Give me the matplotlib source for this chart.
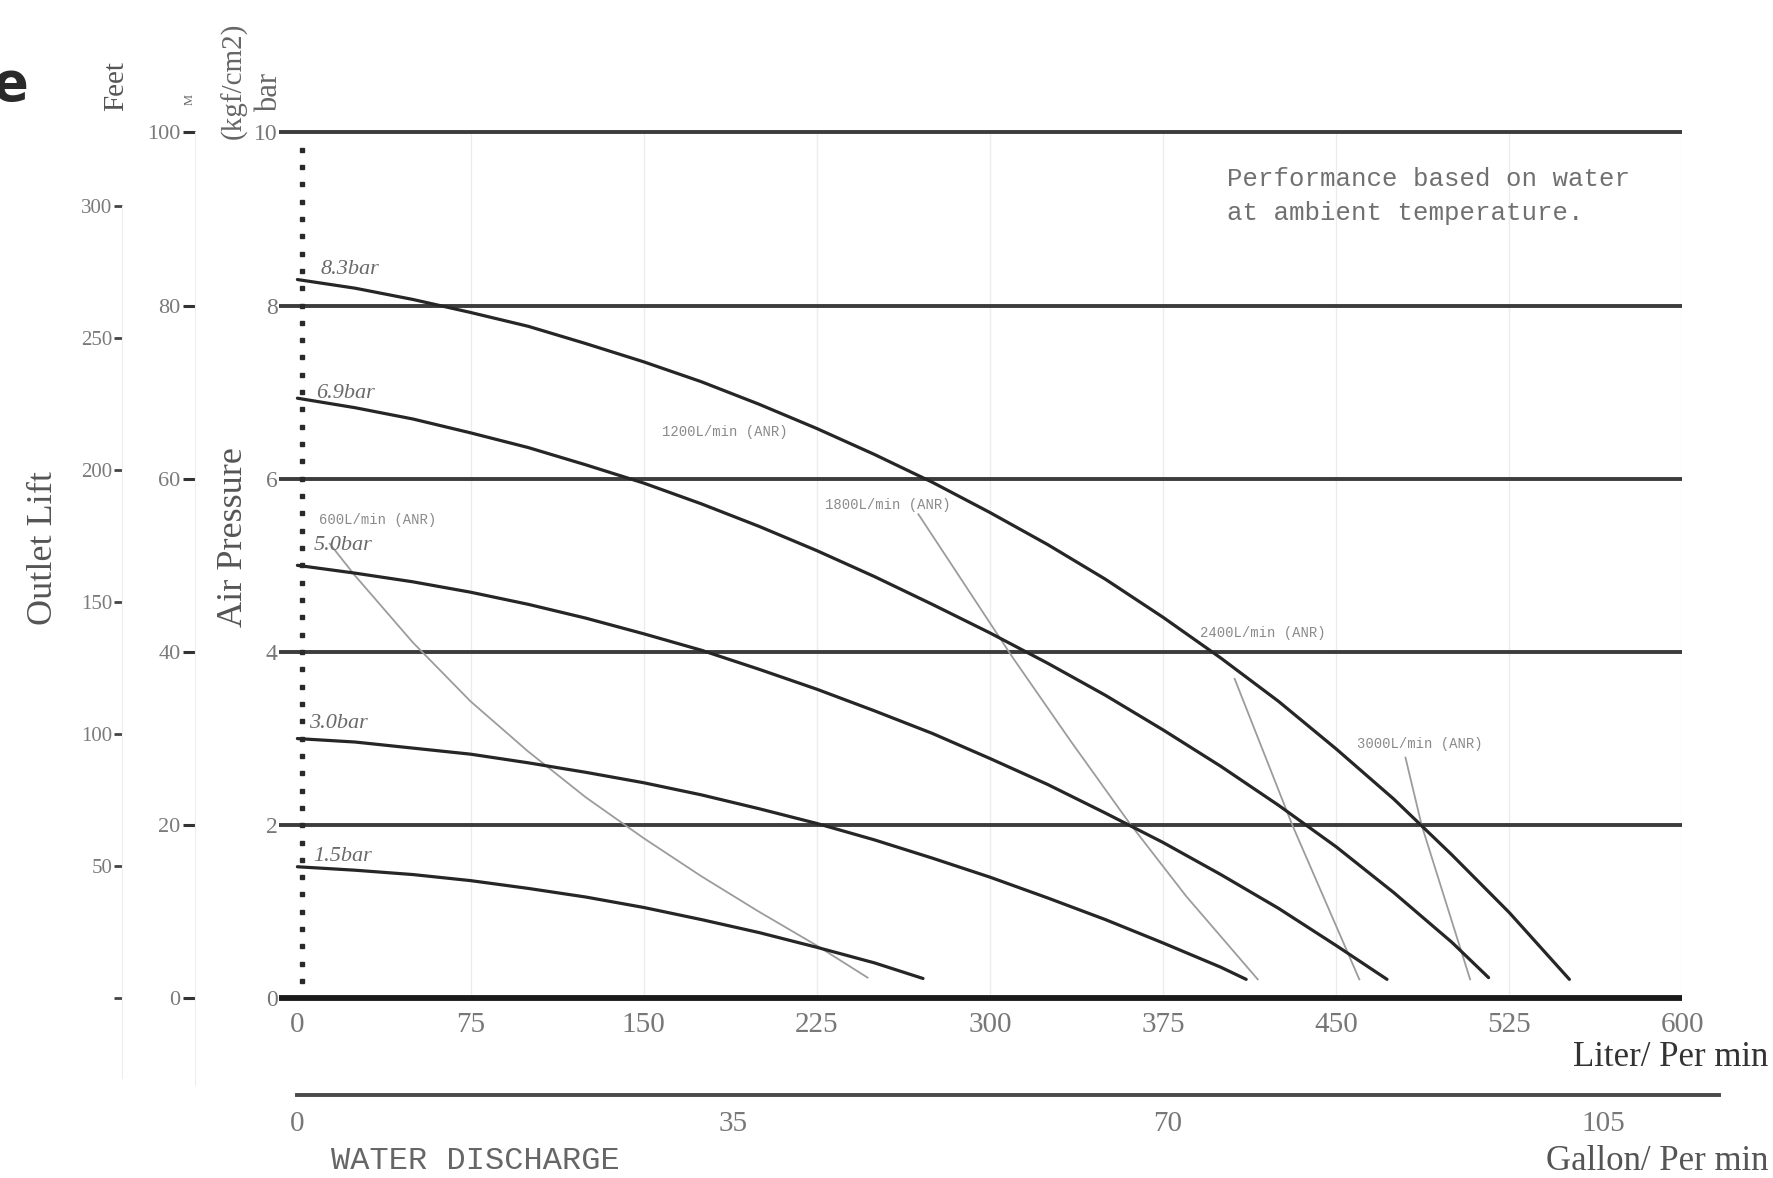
import matplotlib
matplotlib.use("Agg")
import matplotlib.pyplot as plt
import numpy as np

# ---------------- data ----------------
pressure_levels = [0, 2, 4, 6, 8, 10]
flow_ticks = [0, 75, 150, 225, 300, 375, 450, 525, 600]
gallon_ticks = [0, 35, 70, 105]
metre_ticks = [0, 20, 40, 60, 80, 100]
feet_ticks = [0, 50, 100, 150, 200, 250, 300]

curve_labels = ["8.3bar", "6.9bar", "5.0bar", "3.0bar", "1.5bar"]
flow_83 = [0, 25, 50, 75, 100, 125, 150, 175, 200, 225, 250, 275, 300, 325, 350,
           375, 400, 425, 450, 475, 500, 525, 551]
bar_83 = [8.30, 8.20, 8.07, 7.92, 7.76, 7.56, 7.35, 7.12, 6.86, 6.58, 6.28, 5.96,
          5.61, 5.24, 4.84, 4.40, 3.93, 3.43, 2.88, 2.30, 1.66, 0.99, 0.22]
flow_69 = [0, 25, 50, 75, 100, 125, 150, 175, 200, 225, 250, 275, 300, 325, 350,
           375, 400, 425, 450, 475, 500, 516]
bar_69 = [6.93, 6.82, 6.69, 6.53, 6.36, 6.16, 5.95, 5.71, 5.45, 5.17, 4.87, 4.55,
          4.22, 3.87, 3.50, 3.10, 2.68, 2.23, 1.75, 1.22, 0.65, 0.24]
flow_50 = [0, 25, 50, 75, 100, 125, 150, 175, 200, 225, 250, 275, 300, 325, 350,
           375, 400, 425, 450, 472]
bar_50 = [5.00, 4.91, 4.81, 4.69, 4.55, 4.39, 4.21, 4.02, 3.80, 3.57, 3.32, 3.06,
          2.77, 2.47, 2.14, 1.80, 1.43, 1.04, 0.61, 0.22]
flow_30 = [0, 25, 50, 75, 100, 125, 150, 175, 200, 225, 250, 275, 300, 325, 350,
           375, 400, 411]
bar_30 = [3.00, 2.96, 2.89, 2.82, 2.72, 2.61, 2.49, 2.35, 2.19, 2.02, 1.83, 1.62,
          1.40, 1.16, 0.91, 0.64, 0.36, 0.22]
flow_15 = [0, 25, 50, 75, 100, 125, 150, 175, 200, 225, 250, 271]
bar_15 = [1.52, 1.48, 1.43, 1.36, 1.27, 1.17, 1.05, 0.91, 0.76, 0.59, 0.41, 0.23]

air_labels = ["600L/min (ANR)", "1200L/min (ANR)", "1800L/min (ANR)",
              "2400L/min (ANR)", "3000L/min (ANR)"]
air600_flow = [14, 25, 50, 75, 100, 125, 150, 175, 200, 225, 247]
air600_bar = [5.25, 4.88, 4.11, 3.43, 2.85, 2.32, 1.85, 1.41, 1.00, 0.61, 0.24]
air1800_flow = [269, 290, 310, 335, 360, 385, 416]
air1800_bar = [5.59, 4.74, 3.93, 2.97, 2.04, 1.18, 0.22]
air2400_flow = [406, 431, 460]
air2400_bar = [3.69, 2.00, 0.22]
air3000_flow = [480, 487, 508]
air3000_bar = [2.78, 2.00, 0.22]

# ---------------- figure ----------------
W, H = 1773, 1178
fig = plt.figure(figsize=(W / 100, H / 100), dpi=100)
fig.patch.set_facecolor("white")

SERIF = ["Liberation Serif", "DejaVu Serif"]
MONO = ["Liberation Mono", "DejaVu Sans Mono"]

def fx(px):
    return px / W

def fy(py):
    return 1 - py / H

# main axes: L=-8 .. 600 ; bar 0..10
x_zero, x_600 = 297.4, 1682.5
pxL = (x_600 - x_zero) / 600.0
xmin = -8
y0_px, y10_px = 998.4, 132.3
ax = fig.add_axes([fx(x_zero + xmin * pxL), fy(y0_px),
                   (600 - xmin) * pxL / W, (y0_px - y10_px) / H])
ax.set_xlim(xmin, 600)
ax.set_ylim(0, 10)
for s in ax.spines.values():
    s.set_visible(False)
ax.set_facecolor("none")

# faint vertical grid
for xv in flow_ticks[1:]:
    ax.plot([xv, xv], [0, 10], color="#ececec", lw=1.0, zorder=0)

# horizontal pressure lines
for yv in pressure_levels:
    ax.plot([xmin, 600], [yv, yv], color="#1a1a1a" if yv == 0 else "#3c3c3c",
            lw=4.2 if yv == 0 else 2.8, solid_capstyle="butt", clip_on=False, zorder=3)

# dotted scale along x=2
dots = np.arange(0.2, 10.0, 0.2)
ax.plot(np.full(len(dots), 2.0), dots, ls="none", marker="s", ms=3.0,
        color="#2a2a2a", zorder=4)

# performance curves
curves = [(flow_83, bar_83), (flow_69, bar_69), (flow_50, bar_50),
          (flow_30, bar_30), (flow_15, bar_15)]
label_pos = [(10, 8.42), (8, 6.98), (7, 5.23), (5, 3.17), (7, 1.64)]
for (fl, br), lab, (lx, ly) in zip(curves, curve_labels, label_pos):
    ax.plot(fl, br, color="#262626", lw=2.3, zorder=5, solid_capstyle="round",
            solid_joinstyle="round")
    ax.text(lx, ly, lab, fontsize=16, style="italic", family=SERIF,
            color="#6a6a6a", ha="left", va="center", zorder=6)

# air consumption lines
airs = [(air600_flow, air600_bar), (air1800_flow, air1800_bar),
        (air2400_flow, air2400_bar), (air3000_flow, air3000_bar)]
for fl, br in airs:
    ax.plot(fl, br, color="#9c9c9c", lw=1.3, zorder=4)
air_label_pos = [(34.8, 5.52), (185, 6.54), (255.7, 5.70), (418, 4.22), (486, 2.94)]
for lab, (lx, ly) in zip(air_labels, air_label_pos):
    ax.text(lx, ly, lab, fontsize=10, family=MONO, color="#8a8a8a",
            ha="center", va="center", zorder=6)

# ticks
ax.set_xticks(flow_ticks)
ax.set_xticklabels([str(v) for v in flow_ticks], family=SERIF, fontsize=21, color="#777777")
ax.set_yticks(pressure_levels)
ax.set_yticklabels([str(v) for v in pressure_levels], family=SERIF, fontsize=17, color="#777777")
ax.tick_params(axis="x", length=0, pad=10)
ax.tick_params(axis="y", length=0, pad=1)

fig.text(1227 / W, fy(178.6), "Performance based on water",
         family=MONO, fontsize=18.5, color="#707070", ha="left", va="center")
fig.text(1227 / W, fy(212.6), "at ambient temperature.",
         family=MONO, fontsize=18.5, color="#707070", ha="left", va="center")

# metre axis
ax_m = fig.add_axes([fx(194.5), fy(y0_px), 0.0005, (y0_px - y10_px) / H])
ax_m.set_ylim(0, 100)
ax_m.set_xticks([])
for k, s in ax_m.spines.items():
    s.set_visible(False)
ax_m.spines["left"].set_visible(True)
ax_m.spines["left"].set_color("#ededed")
ax_m.spines["left"].set_bounds(-10, 100)
ax_m.set_yticks(metre_ticks)
ax_m.set_yticklabels([str(v) for v in metre_ticks], family=SERIF, fontsize=16, color="#7a7a7a")
ax_m.tick_params(axis="y", length=9, width=2.2, color="#333333", pad=1)
ax_m.patch.set_visible(False)

# feet axis
ax_f = fig.add_axes([fx(122), fy(y0_px), 0.0005, (y0_px - y10_px) / H])
ax_f.set_ylim(0, 100 * 3.2808)
ax_f.set_xticks([])
for k, s in ax_f.spines.items():
    s.set_visible(False)
ax_f.spines["left"].set_visible(True)
ax_f.spines["left"].set_color("#ededed")
ax_f.spines["left"].set_bounds(-30, 300)
ax_f.set_yticks(feet_ticks)
ax_f.set_yticklabels([""] + [str(v) for v in feet_ticks[1:]], family=SERIF, fontsize=15,
                     color="#7a7a7a")
ax_f.tick_params(axis="y", length=6, width=2.0, color="#444444", pad=1)
ax_f.patch.set_visible(False)

# gallon axis
g_left, g_right, g_y = 297.4, 1719.0, 1094.5
ax_g = fig.add_axes([fx(g_left), fy(g_y), (g_right - g_left) / W, 0.0001])
ax_g.set_xlim(0, 114.3)
ax_g.set_yticks([])
for k, s in ax_g.spines.items():
    s.set_visible(False)
ax_g.spines["bottom"].set_visible(True)
ax_g.spines["bottom"].set_color("#4a4a4a")
ax_g.spines["bottom"].set_linewidth(2.8)
ax_g.set_xticks(gallon_ticks)
ax_g.set_xticklabels([str(v) for v in gallon_ticks], family=SERIF, fontsize=21, color="#777777")
ax_g.tick_params(axis="x", length=0, pad=12)
ax_g.patch.set_visible(False)

# labels
fig.text(fx(1768), fy(1057), "Liter/ Per min", family=SERIF, fontsize=25,
         color="#333333", ha="right", va="center")
fig.text(fx(1768), fy(1161), "Gallon/ Per min", family=SERIF, fontsize=25,
         color="#555555", ha="right", va="center")
fig.text(fx(331), fy(1161), "WATER DISCHARGE", family=MONO, fontsize=23,
         color="#666666", ha="left", va="center")

fig.text(fx(43), fy(548), "Outlet Lift", family=SERIF, fontsize=26, color="#555555",
         rotation=90, ha="center", va="center")
fig.text(fx(234), fy(537), "Air Pressure", family=SERIF, fontsize=26, color="#555555",
         rotation=90, ha="center", va="center")
fig.text(fx(116.5), fy(86), "Feet", family=SERIF, fontsize=21, color="#555555",
         rotation=90, ha="center", va="center")
fig.text(fx(190), fy(99.5), "M", family=SERIF, fontsize=9, color="#666666",
         rotation=90, ha="center", va="center")
fig.text(fx(234), fy(81), "(kgf/cm2)", family=SERIF, fontsize=21, color="#666666",
         rotation=90, ha="center", va="center")
fig.text(fx(270), fy(92), "bar", family=SERIF, fontsize=22, color="#666666",
         rotation=90, ha="center", va="center")
fig.text(fx(-7), fy(85), "e", family=["DejaVu Sans"], fontsize=38, fontweight="bold",
         color="#2a2a2a", ha="left", va="center")

fig.savefig("out.png", dpi=100, facecolor="white")
